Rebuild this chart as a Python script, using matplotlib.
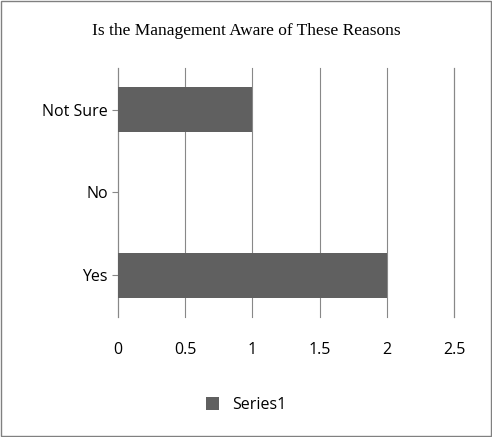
import matplotlib
matplotlib.use("Agg")
import matplotlib.pyplot as plt

categories = ["Yes", "No", "Not Sure"]
values = [2, 0, 1]
xticks = [0, 0.5, 1, 1.5, 2, 2.5]

fig = plt.figure(figsize=(4.92, 4.37), dpi=100)
fig.patches.append(plt.Rectangle((0.002, 0.002), 0.996, 0.996, transform=fig.transFigure,
                                 fill=False, edgecolor="#808080", linewidth=1))
ax = fig.add_axes([0.24, 0.275, 0.683, 0.569])
ax.barh(range(3), values, height=0.55, color="#606060", label="Series1", zorder=3)
ax.set_xlim(0, 2.5)
ax.set_ylim(-0.5, 2.5)
ax.set_xticks(xticks)
ax.set_xticklabels([f"{t:g}" for t in xticks])
ax.set_yticks(range(3))
ax.set_yticklabels(categories)
ax.grid(axis="x", color="#888888", linewidth=0.8, zorder=0, clip_on=False)
for s in ["top", "bottom"]:
    ax.spines[s].set_visible(False)
ax.spines["right"].set_color("#888888")
ax.spines["left"].set_color("#888888")
ax.tick_params(axis="x", length=0, pad=18, labelsize=11.5)
ax.tick_params(axis="y", length=4, color="#888888", labelsize=11.5)
for lab in ax.get_xticklabels() + ax.get_yticklabels():
    lab.set_family("Open Sans")
fig.text(0.5, 0.92, "Is the Management Aware of These Reasons", ha="center",
         family="Liberation Serif", fontsize=12.5)
fig.legend(loc="center", bbox_to_anchor=(0.5, 0.073), frameon=False,
           prop={"family": "Open Sans", "size": 11.5}, handlelength=0.8, handleheight=0.8)
fig.savefig("out.png", dpi=100)
